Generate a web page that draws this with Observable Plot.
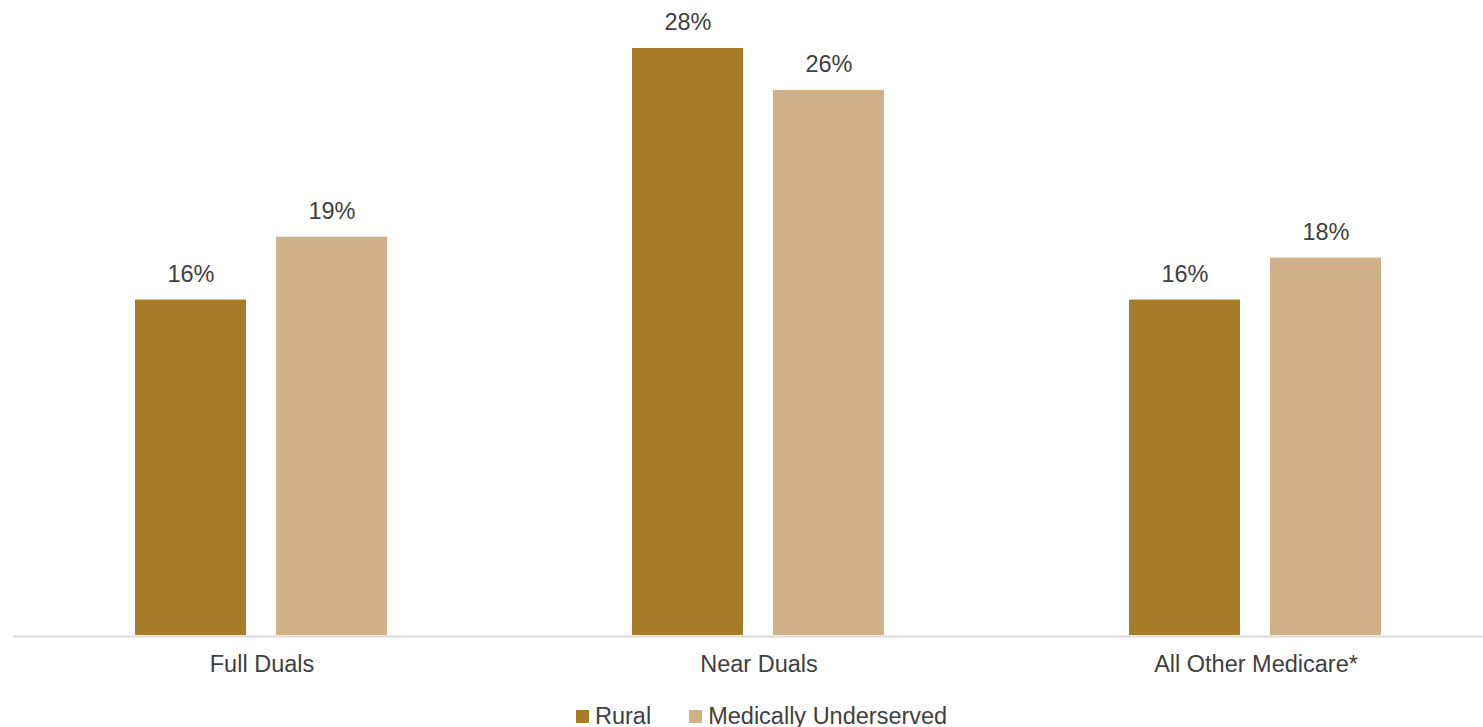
<!DOCTYPE html>
<html>
<head>
<meta charset="utf-8">
<script src="https://cdn.jsdelivr.net/npm/d3@7"></script>
<script src="https://cdn.jsdelivr.net/npm/@observablehq/plot@0.6"></script>
<style>
  html, body { margin: 0; padding: 0; background: #fff; overflow: hidden; }
  #chart { width: 1483px; overflow: hidden; }
  #chart svg { max-width: none !important; display: block; }
  .legend { display: flex; align-items: center; margin-left: 576px; margin-top: 13px; height: 26px;
            font-family: 'Liberation Sans', Arial, sans-serif; font-size: 23.5px; color: #404040; }
  .legend .item { display: flex; align-items: center; margin-right: 38px; }
  .legend .sw { width: 13px; height: 13px; margin-right: 6px; }
</style>
</head>
<body>
<div id="chart"></div>
<script>
const categories = ["Full Duals", "Near Duals", "All Other Medicare*"];
const series = ["Rural", "Medically Underserved"];
const rural = [16, 28, 16];
const underserved = [19, 26, 18];
const colors = ["#A67C29", "#CFB089"];

const data = categories.flatMap((c, i) => [
  {category: c, series: series[0], value: rural[i]},
  {category: c, series: series[1], value: underserved[i]}
]);

const plot = Plot.plot({
  width: 1504,
  height: 690,
  marginTop: 48,
  marginBottom: 55,
  marginLeft: 13,
  marginRight: 0,
  style: {fontFamily: "'Liberation Sans', Arial, sans-serif", fontSize: "23.5px", color: "#404040", background: "white"},
  fx: {domain: categories, padding: 0, label: null, axis: "bottom", tickSize: 0, tickPadding: 20},
  x: {domain: series, axis: null, paddingInner: 0.2127, paddingOuter: 0.8626},
  y: {domain: [0, 28], axis: null},
  color: {domain: series, range: colors},
  marks: [
    Plot.ruleY([0], {stroke: "#d9d9d9", strokeWidth: 2, dy: 1}),
    Plot.barY(data, {fx: "category", x: "series", y: "value", fill: "series"}),
    Plot.text(data, {fx: "category", x: "series", y: "value", text: d => d.value + "%", dy: -26, fill: "#404040"})
  ]
});
plot.style.maxWidth = "none";
const chart = document.getElementById("chart");
chart.appendChild(plot);

const legend = document.createElement("div");
legend.className = "legend";
series.forEach((s, i) => {
  const item = document.createElement("div");
  item.className = "item";
  const sw = document.createElement("span");
  sw.className = "sw";
  sw.style.background = colors[i];
  const t = document.createElement("span");
  t.textContent = s;
  item.appendChild(sw);
  item.appendChild(t);
  legend.appendChild(item);
});
chart.appendChild(legend);
</script>
</body>
</html>
